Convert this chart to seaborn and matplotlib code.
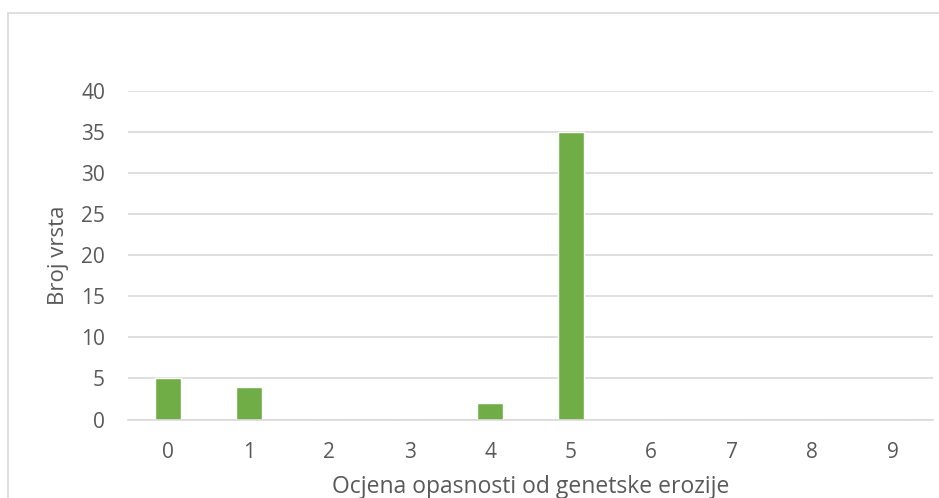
import numpy as np
import pandas as pd
import seaborn as sns
import matplotlib.pyplot as plt
from matplotlib.patches import Rectangle

# ocjena opasnosti od genetske erozije -> broj vrsta
ocjene = [0, 1, 2, 3, 4, 5, 6, 7, 8, 9]
broj_vrsta = [5, 4, 0, 0, 2, 35, 0, 0, 0, 0]

W, H = 939, 498
sns.set_style('white')
plt.rcParams['font.family'] = ['Open Sans', 'DejaVu Sans']
txt = '#595959'

fig = plt.figure(figsize=(W / 100, H / 100), dpi=100)
ax = fig.add_axes([128 / W, 1 - 419.5 / H, (933 - 128) / W, (419.5 - 91) / H])

df = pd.DataFrame({'ocjena': [str(o) for o in ocjene], 'broj': broj_vrsta})
sns.barplot(data=df, x='ocjena', y='broj', color='#70ad47', saturation=1,
            width=0.32, ax=ax)

ax.set_ylim(0, 40)
ax.set_yticks(range(0, 41, 5))
ax.grid(axis='y', color='#d9d9d9', linewidth=1.2)
ax.set_axisbelow(True)
for s in ['top', 'right', 'left']:
    ax.spines[s].set_visible(False)
ax.spines['bottom'].set_color('#d9d9d9')
ax.spines['bottom'].set_linewidth(1.2)
ax.tick_params(axis='both', length=0, labelsize=15, colors=txt)
ax.tick_params(axis='y', pad=16.5)
ax.tick_params(axis='x', pad=16)
ax.set_xlabel('Ocjena opasnosti od genetske erozije', fontsize=16.5, color=txt, labelpad=9)
ax.set_ylabel('Broj vrsta', fontsize=16, color=txt, labelpad=9)

fig.patches.append(Rectangle((8 / W, -0.05), 1.2, 1 - 13 / H + 0.05, transform=fig.transFigure,
                             fill=False, edgecolor='#d9d9d9', linewidth=1.2))

fig.savefig('out.png', dpi=100)
